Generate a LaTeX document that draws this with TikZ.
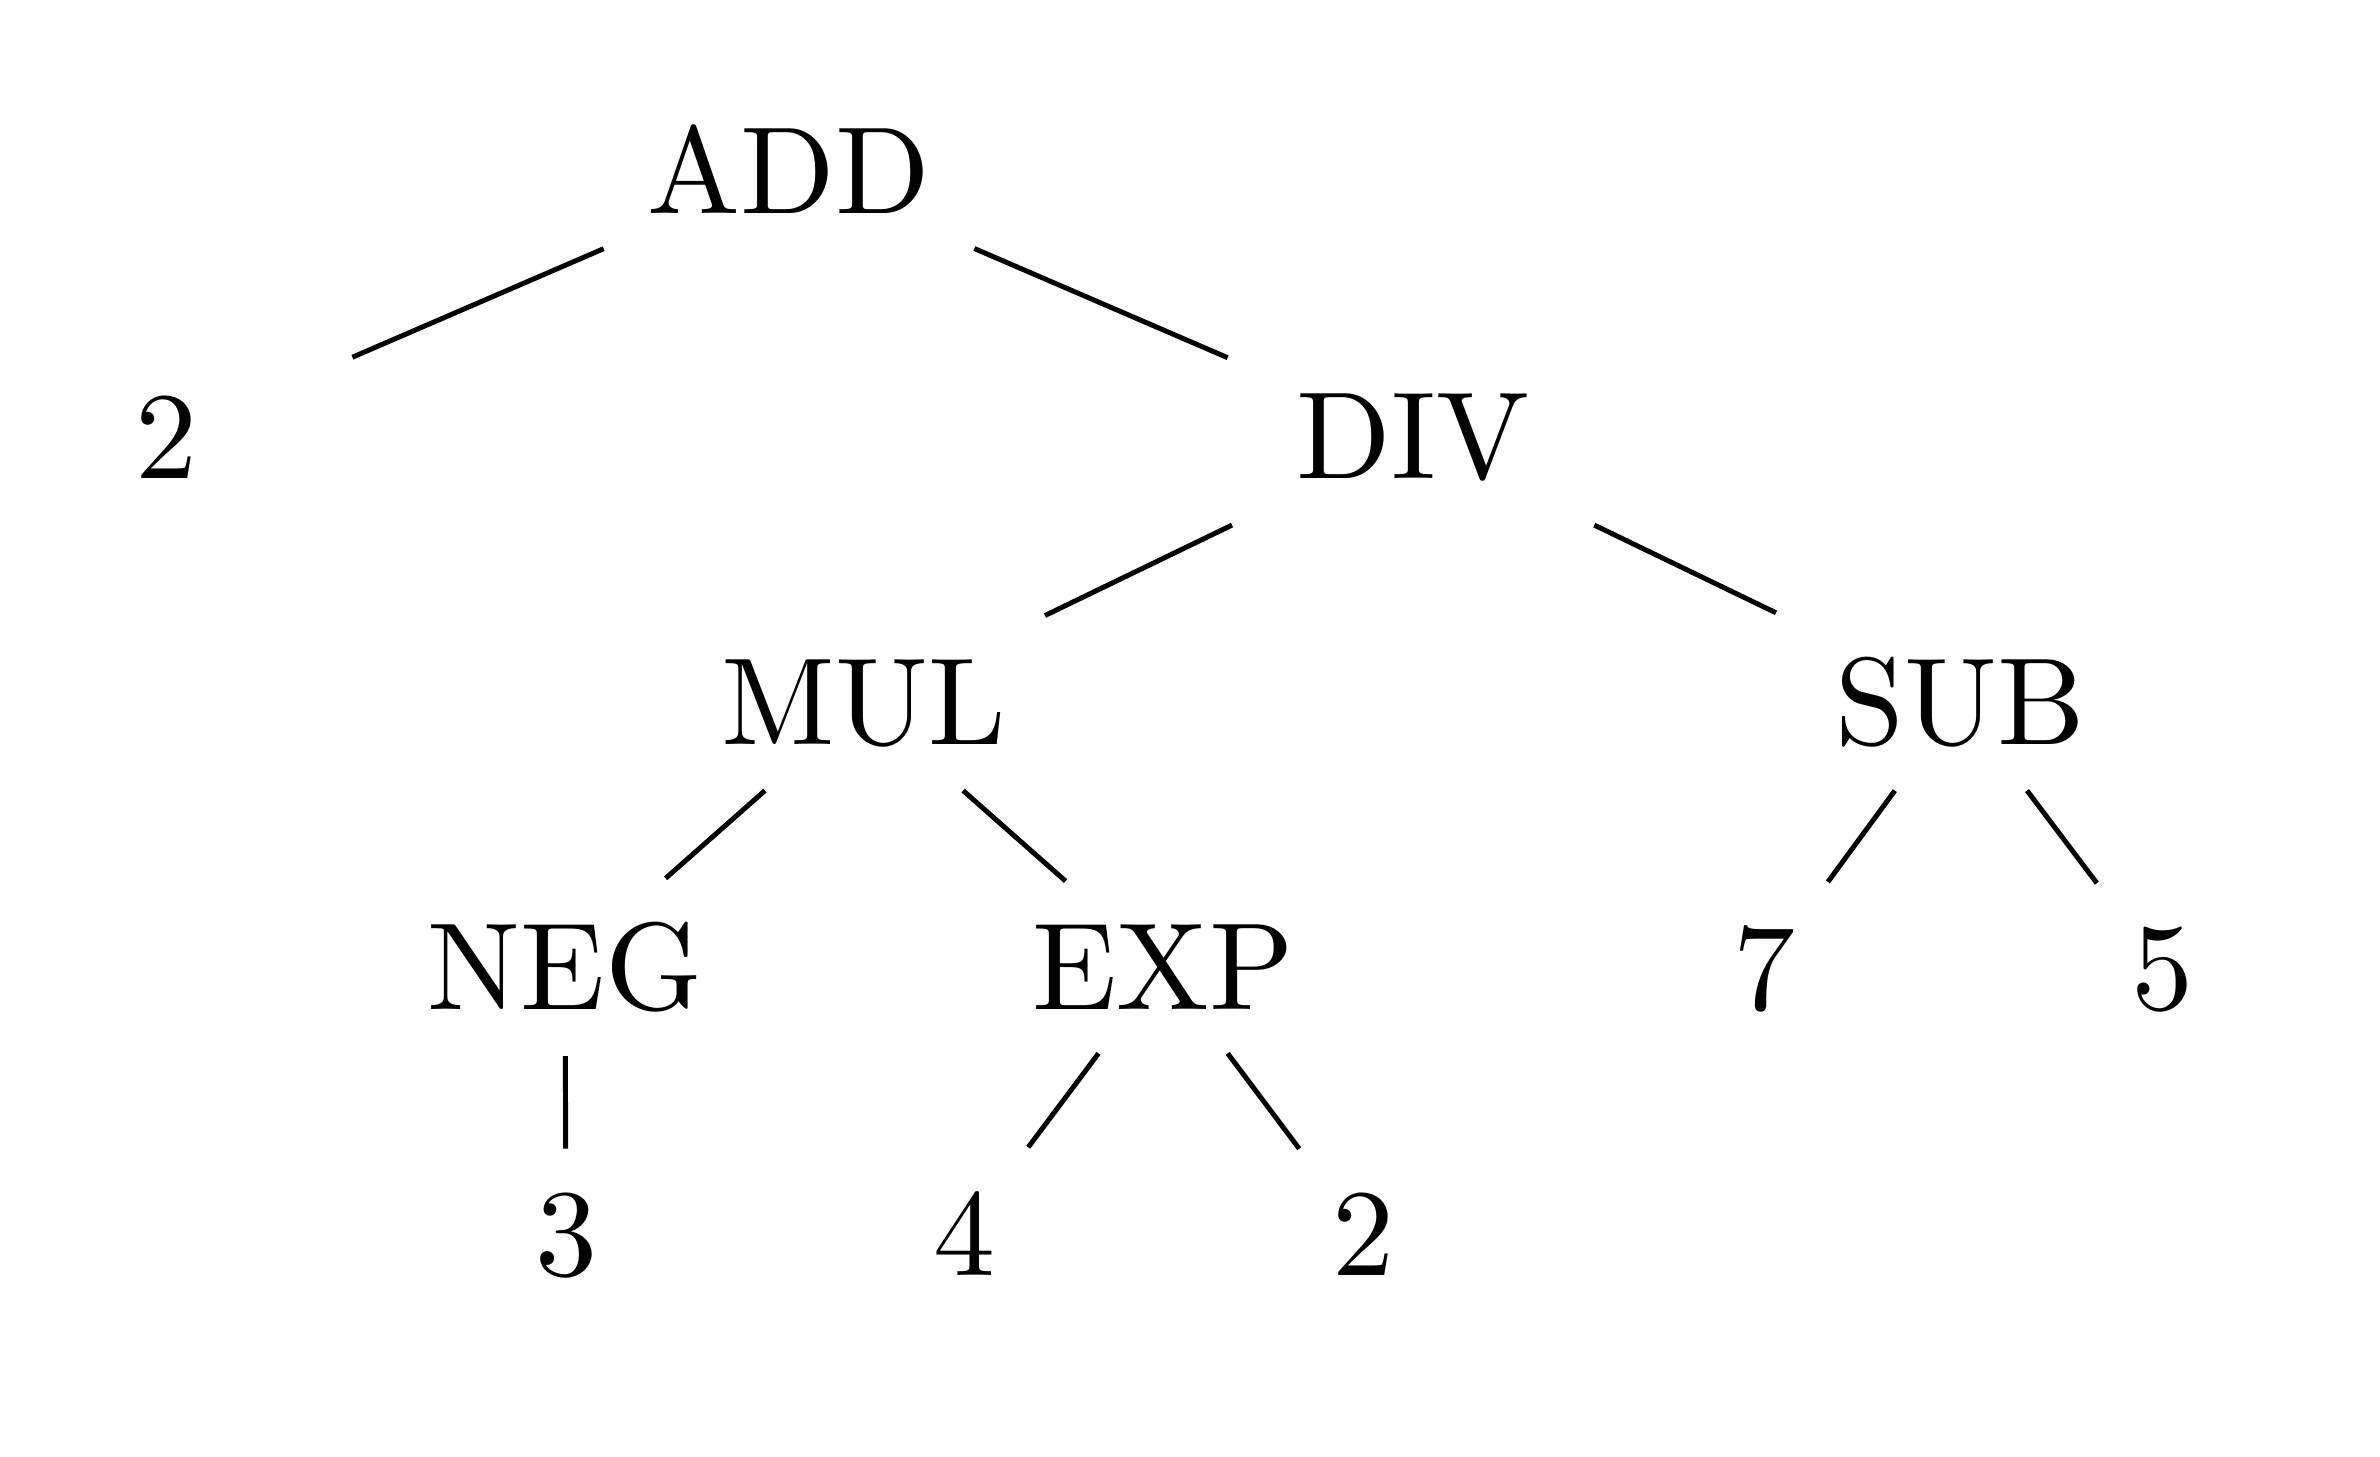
\documentclass[tikz,border=0pt]{standalone}
\begin{document}
\begin{tikzpicture}[x=0.080645pt, y=-0.080645pt,
  tn/.style={anchor=base, inner sep=0.3333em, minimum width=29.5pt},
  edge/.style={line width=0.4pt}]
\useasboundingbox (0,0) rectangle (2380,1456);
\node[tn] (add)   at (789,213)    {ADD};
\node[tn] (two)   at (167,478.5)  {2};
\node[tn] (div)   at (1413,478.5) {DIV};
\node[tn] (mul)   at (864,744)    {MUL};
\node[tn] (sub)   at (1960,744)   {SUB};
\node[tn] (neg)   at (565,1009.5) {NEG};
\node[tn] (exp)   at (1163,1009.5){EXP};
\node[tn] (seven) at (1764,1009.5){7};
\node[tn] (five)  at (2162,1009.5){5};
\node[tn] (three) at (566,1275)   {3};
\node[tn] (four)  at (964,1275)   {4};
\node[tn] (twob)  at (1363,1275)  {2};
\draw[edge] (add) -- (two);
\draw[edge] (add) -- (div);
\draw[edge] (div) -- (mul);
\draw[edge] (div) -- (sub);
\draw[edge] (mul) -- (neg);
\draw[edge] (mul) -- (exp);
\draw[edge] (sub) -- (seven);
\draw[edge] (sub) -- (five);
\draw[edge] (neg) -- (three);
\draw[edge] (exp) -- (four);
\draw[edge] (exp) -- (twob);
\end{tikzpicture}
\end{document}
